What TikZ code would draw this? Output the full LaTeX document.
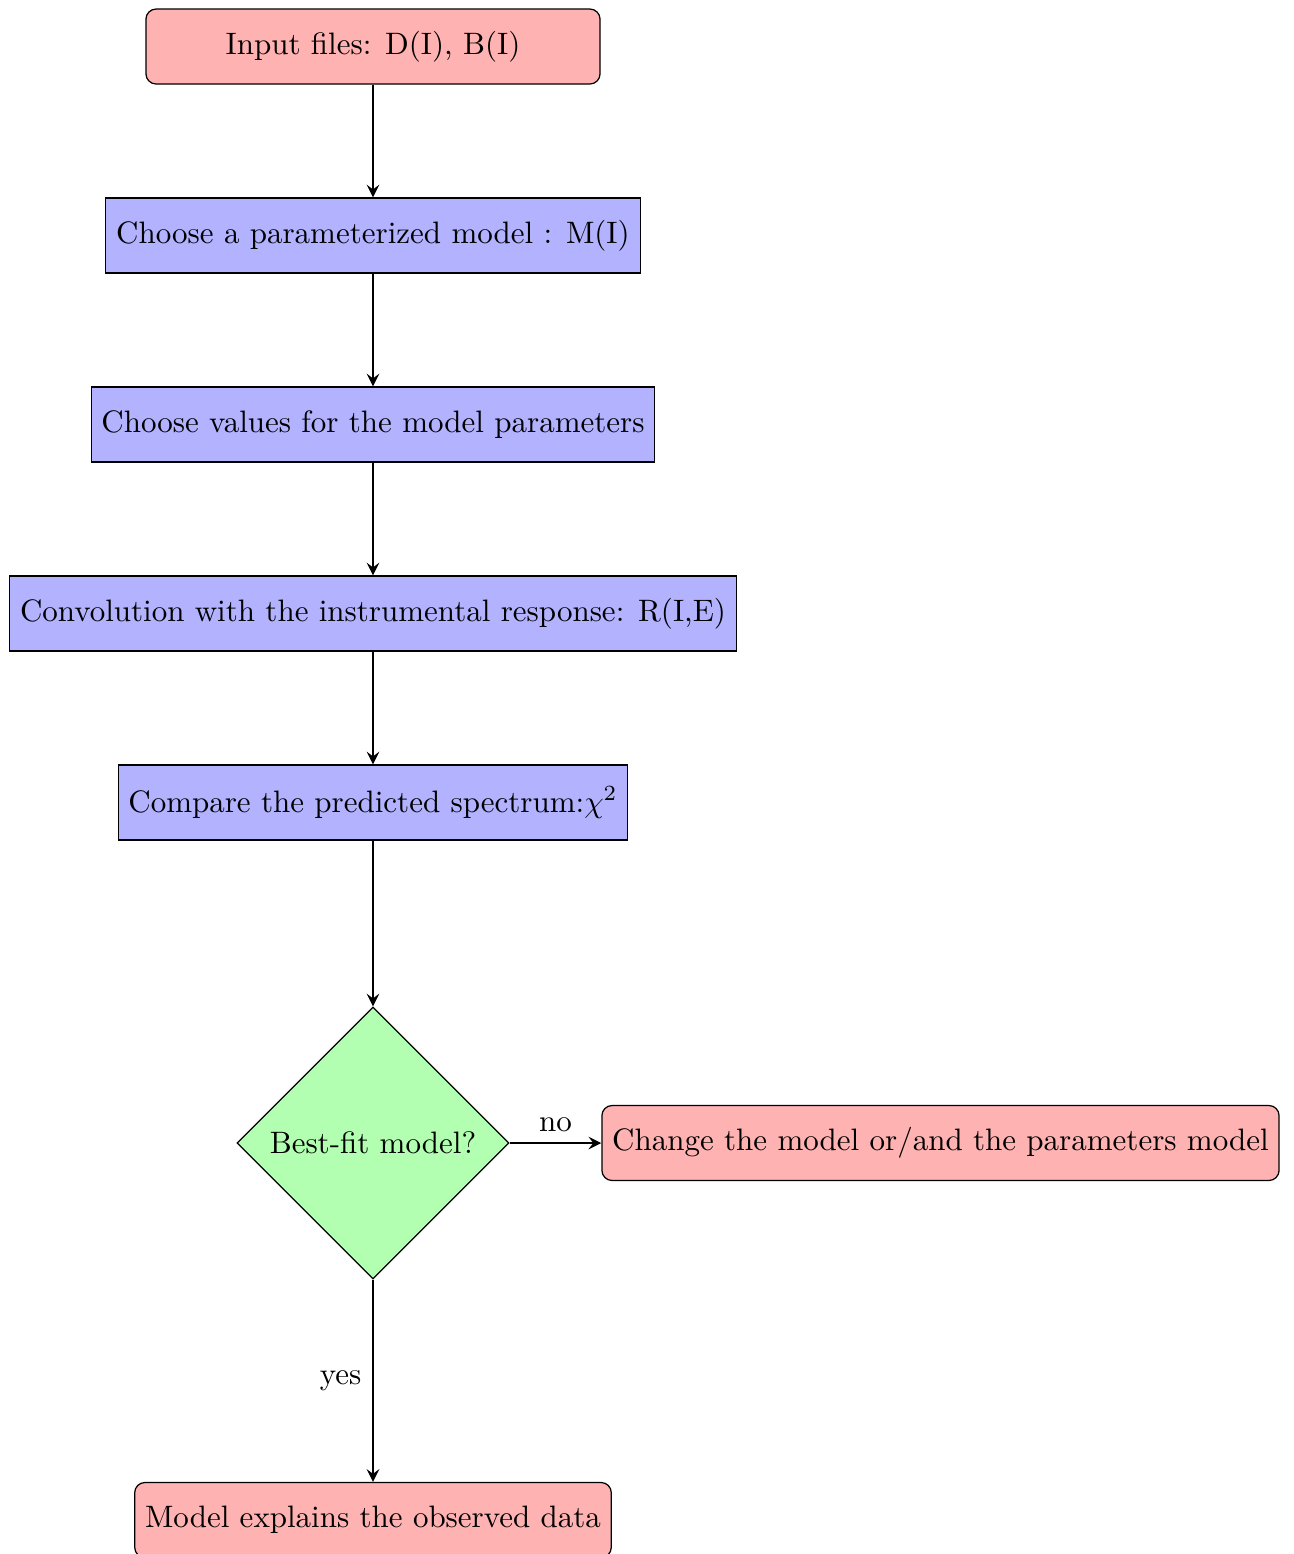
\documentclass[tikz,border=0pt]{standalone}
\usetikzlibrary{shapes.geometric,arrows}
\begin{document}
\begin{tikzpicture}[x=0.32258pt,y=-0.32258pt,
  startstop/.style={rectangle, rounded corners=3.3pt, draw=black, fill=red!30, minimum height=24.2pt, inner sep=3.33pt},
  process/.style={rectangle, draw=black, line width=0.35pt, fill=blue!30, minimum height=24.2pt, inner sep=3.33pt},
  decision/.style={diamond, draw=black, fill=green!30, aspect=1, minimum width=87.7pt, minimum height=87.7pt, inner sep=1pt},
  arrow/.style={thick,->,>=stealth}]
\useasboundingbox (0,0) rectangle (1294,1554);
\node[startstop, minimum width=146.5pt] (in) at (373,46.5) {Input files: D(I), B(I)};
\node[process] (m) at (373,235.5) {Choose a parameterized model : M(I)};
\node[process] (v) at (373,424.5) {Choose values for the model parameters};
\node[process] (c) at (373,613.5) {Convolution with the instrumental response: R(I,E)};
\node[process] (cmp) at (373,802.5) {Compare the predicted spectrum:$\chi^2$};
\node[decision] (d) at (373,1143) {Best-fit model?};
\node[startstop] (ch) at (940.5,1143) {Change the model or/and the parameters model};
\node[startstop] (ok) at (373,1520) {Model explains the observed data};
\draw[arrow] (in) -- (m);
\draw[arrow] (m) -- (v);
\draw[arrow] (v) -- (c);
\draw[arrow] (c) -- (cmp);
\draw[arrow] (cmp) -- (d);
\draw[arrow] (d) -- node[anchor=south] {no} (ch);
\draw[arrow] (d) -- node[anchor=east] {yes} (ok);
\end{tikzpicture}
\end{document}
